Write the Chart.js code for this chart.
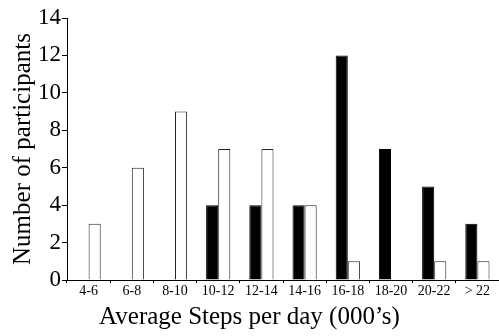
<!DOCTYPE html>
<html>
<head>
<meta charset="utf-8">
<script src="https://cdn.jsdelivr.net/npm/chart.js@4"></script>
<style>
  html, body { margin: 0; padding: 0; background: #fff; }
  #wrap { width: 499px; height: 336px; }
</style>
</head>
<body>
<div id="wrap"><canvas id="stepsChart"></canvas></div>
<script>
// Data
const categories = ["4-6", "6-8", "8-10", "10-12", "12-14", "14-16", "16-18", "18-20", "20-22", "> 22"];
const blackBars = [0, 0, 0, 4, 4, 4, 12, 7, 5, 3];
const whiteBars = [3, 6, 9, 7, 7, 4, 1, 0, 1, 1];
const yTicks = [0, 2, 4, 6, 8, 10, 12, 14];

const serif = "'Liberation Serif', 'Times New Roman', serif";

const ctx = document.getElementById("stepsChart").getContext("2d");
new Chart(ctx, {
  type: "bar",
  data: {
    labels: categories,
    datasets: [
      {
        label: "Group A",
        data: blackBars,
        backgroundColor: "#000000",
        borderColor: "#000000",
        borderWidth: 1,
        categoryPercentage: 0.56,
        barPercentage: 1.0,
      },
      {
        label: "Group B",
        data: whiteBars,
        backgroundColor: "#ffffff",
        borderColor: "#222222",
        borderWidth: 1,
        categoryPercentage: 0.56,
        barPercentage: 1.0,
      },
    ],
  },
  options: {
    responsive: true,
    maintainAspectRatio: false,
    animation: false,
    layout: { padding: { top: 18, right: 0, bottom: 0, left: 0 } },
    plugins: {
      legend: { display: false },
      tooltip: { enabled: false },
      title: {
        display: true,
        position: "bottom",
        text: "Average Steps per day (000\u2019s)",
        color: "#000",
        font: { family: serif, size: 25, weight: "normal" },
        padding: { top: 0, bottom: 4 },
      },
    },
    scales: {
      x: {
        afterFit: (scale) => { scale.height = 22; },
        grid: {
          display: true,
          drawOnChartArea: false,
          drawTicks: true,
          tickLength: 3,
          color: "#000",
        },
        border: { display: true, color: "#000", width: 1 },
        ticks: {
          color: "#000",
          padding: 0,
          maxRotation: 0,
          autoSkip: false,
          font: { family: serif, size: 14 },
        },
      },
      y: {
        min: 0,
        max: 14,
        afterFit: (scale) => { scale.width = 67; },
        afterBuildTicks: (scale) => {
          scale.ticks = yTicks.map((v) => ({ value: v }));
        },
        grid: {
          display: true,
          drawOnChartArea: false,
          drawTicks: true,
          tickLength: 5,
          color: "#000",
        },
        border: { display: true, color: "#000", width: 1 },
        ticks: {
          color: "#000",
          padding: 1,
          font: { family: serif, size: 23 },
        },
        title: {
          display: true,
          text: "Number of participants",
          color: "#000",
          font: { family: serif, size: 25, weight: "normal" },
          padding: { top: 8, bottom: 0 },
        },
      },
    },
  },
});
</script>
</body>
</html>
